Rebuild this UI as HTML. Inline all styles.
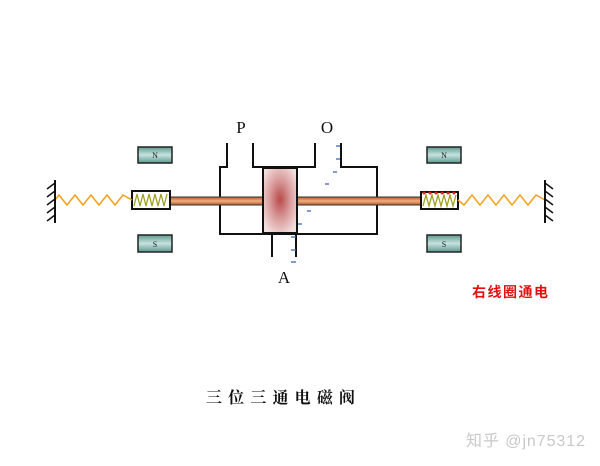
<!DOCTYPE html>
<html><head><meta charset="utf-8"><style>
html,body{margin:0;padding:0;background:#fff;width:600px;height:466px;overflow:hidden;}
</style></head><body>
<svg width="600" height="466" viewBox="0 0 600 466" xmlns="http://www.w3.org/2000/svg">
<defs>
<radialGradient id="sp" cx="50%" cy="48%" r="60%">
<stop offset="0" stop-color="#b84a4a"/><stop offset="0.5" stop-color="#d99a9a"/><stop offset="1" stop-color="#f3dede"/>
</radialGradient>
<linearGradient id="mg" x1="0" y1="0" x2="0" y2="1">
<stop offset="0" stop-color="#5f9a92"/><stop offset="0.5" stop-color="#c6e2de"/><stop offset="1" stop-color="#5f9a92"/>
</linearGradient>
<linearGradient id="rod" x1="0" y1="0" x2="0" y2="1">
<stop offset="0" stop-color="#b5562a"/><stop offset="0.5" stop-color="#f0b080"/><stop offset="1" stop-color="#b5562a"/>
</linearGradient>
</defs>
<g stroke="#111" stroke-width="2" fill="none">
<polyline points="227,143 227,167 220,167 220,234 377,234 377,167 341,167 341,143"/>
<polyline points="253,143 253,167 315,167 315,143"/>
<line x1="272" y1="234" x2="272" y2="257"/>
<line x1="296" y1="234" x2="296" y2="257"/>
</g>
<rect x="170" y="197" width="252" height="8" fill="url(#rod)" stroke="#333" stroke-width="1"/>
<rect x="263" y="168" width="34" height="65" fill="url(#sp)" stroke="#111" stroke-width="2"/>
<rect x="132" y="191" width="38" height="18" fill="#fff" stroke="#111" stroke-width="2"/>
<polyline points="134,206 137,194 140,206 143,194 146,206 149,194 152,206 155,194 158,206 161,194 164,206 167,194" fill="none" stroke="#a0a020" stroke-width="1.3"/>
<rect x="421" y="192" width="37" height="17" fill="#fff" stroke="#111" stroke-width="2"/>
<polyline points="423,206 426,195 429,206 432,195 435,206 438,195 441,206 444,195 447,206 450,195 453,206 456,195" fill="none" stroke="#a0a020" stroke-width="1.3"/>
<g fill="#e02020"><circle cx="424" cy="193" r="1.5"/><circle cx="430" cy="193" r="1.5"/><circle cx="436" cy="193" r="1.5"/><circle cx="442" cy="193" r="1.5"/><circle cx="448" cy="193" r="1.5"/><circle cx="454" cy="193" r="1.5"/></g>
<polyline points="55,200 59,195 67,205 75,195 83,205 91,195 99,205 107,195 115,205 123,195 132,200" fill="none" stroke="#f0a020" stroke-width="1.5"/>
<polyline points="458,200 464,205 472,195 480,205 488,195 496,205 504,195 512,205 520,195 528,205 536,195 545,200" fill="none" stroke="#f0a020" stroke-width="1.5"/>
<g stroke="#111" stroke-width="2">
<line x1="55" y1="180" x2="55" y2="223"/>
<line x1="545" y1="180" x2="545" y2="223"/>
</g>
<g stroke="#111" stroke-width="1.5">
<line x1="55" y1="183" x2="47" y2="189"/><line x1="55" y1="191" x2="47" y2="197"/><line x1="55" y1="199" x2="47" y2="205"/><line x1="55" y1="207" x2="47" y2="213"/><line x1="55" y1="215" x2="47" y2="221"/>
<line x1="545" y1="183" x2="553" y2="189"/><line x1="545" y1="191" x2="553" y2="197"/><line x1="545" y1="199" x2="553" y2="205"/><line x1="545" y1="207" x2="553" y2="213"/><line x1="545" y1="215" x2="553" y2="221"/>
</g>
<g stroke="#222" stroke-width="1.5" fill="url(#mg)">
<rect x="138" y="147" width="34" height="16"/><rect x="138" y="235" width="34" height="17"/>
<rect x="427" y="147" width="34" height="16"/><rect x="427" y="235" width="34" height="17"/>
</g>
<g font-family="Liberation Serif,serif" font-size="8" fill="#222" text-anchor="middle">
<text x="155" y="158">N</text><text x="155" y="247">S</text><text x="444" y="158">N</text><text x="444" y="247">S</text>
</g>
<g stroke="#3a6ab0" stroke-width="1.3">
<line x1="336" y1="146" x2="340" y2="146"/><line x1="336" y1="159" x2="340" y2="159"/><line x1="333" y1="172" x2="337" y2="172"/>
<line x1="325" y1="184" x2="329" y2="184"/><line x1="307" y1="211" x2="311" y2="211"/><line x1="298" y1="224" x2="302" y2="224"/>
<line x1="291" y1="237" x2="296" y2="237"/><line x1="291" y1="250" x2="296" y2="250"/><line x1="291" y1="262" x2="296" y2="262"/>
</g>
<g font-family="Liberation Serif,serif" font-size="17" fill="#111" text-anchor="middle">
<text x="241" y="133">P</text><text x="327" y="133">O</text><text x="284" y="283">A</text>
</g>
<text x="472" y="297" font-family="Liberation Sans,'Noto Sans CJK SC',sans-serif" font-size="14" font-weight="bold" fill="#e01010" textLength="76">右线圈通电</text>
<text x="206" y="403" font-family="Liberation Serif,'Noto Serif CJK SC',serif" font-weight="bold" font-size="16" fill="#111" textLength="149">三位三通电磁阀</text>
<text x="466" y="446" font-family="Liberation Sans,'Noto Sans CJK SC',sans-serif" font-size="16" fill="#c8c8c8" textLength="119">知乎 @jn75312</text>
</svg>
</body></html>
